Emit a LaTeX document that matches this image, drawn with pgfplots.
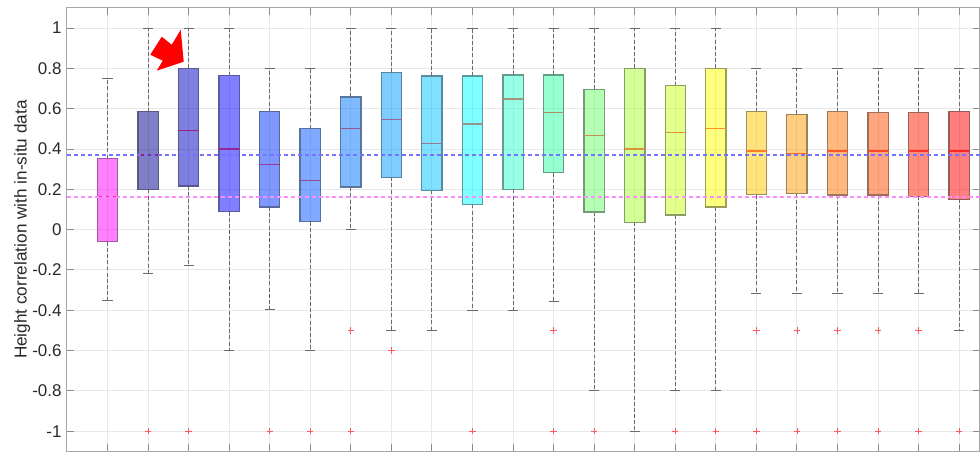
\documentclass[border=0pt]{standalone}
\usepackage{pgfplots}
\pgfplotsset{compat=1.18}
\usepgfplotslibrary{statistics}
\usepackage{fontspec}
\setmainfont{Liberation Sans}

\definecolor{c1}{RGB}{255,0,255}
\definecolor{c2}{RGB}{0,0,145}
\definecolor{c3}{RGB}{0,0,195}
\definecolor{c4}{RGB}{0,0,255}
\definecolor{c5}{RGB}{0,50,255}
\definecolor{c6}{RGB}{0,85,255}
\definecolor{c7}{RGB}{0,115,255}
\definecolor{c8}{RGB}{0,155,255}
\definecolor{c9}{RGB}{0,195,255}
\definecolor{c10}{RGB}{0,255,255}
\definecolor{c11}{RGB}{45,255,205}
\definecolor{c12}{RGB}{45,255,165}
\definecolor{c13}{RGB}{105,255,105}
\definecolor{c14}{RGB}{165,255,45}
\definecolor{c15}{RGB}{200,255,25}
\definecolor{c16}{RGB}{255,255,0}
\definecolor{c17}{RGB}{255,200,0}
\definecolor{c18}{RGB}{255,155,0}
\definecolor{c19}{RGB}{255,115,0}
\definecolor{c20}{RGB}{255,75,0}
\definecolor{c21}{RGB}{255,30,0}
\definecolor{c22}{RGB}{255,0,0}
\definecolor{refb}{RGB}{115,115,255}
\definecolor{refm}{RGB}{255,140,255}
\definecolor{txt}{RGB}{40,40,40}

\pgfplotsset{
  mybox/.style n args={7}{
    boxplot prepared={draw position=#1, lower whisker=#3,
      lower quartile=#4, median=#5, upper quartile=#6, upper whisker=#7},
    fill=#2, fill opacity=0.5, draw=#2!40!black!65, draw opacity=1, line width=0.65pt,
    boxplot/every median/.style={draw=#2!50!red!85!white, line width=0.6pt},
    mark=+, mark size=1.6pt, mark options={solid, draw=red!65, line width=0.4pt, fill opacity=1}
  }
}

\begin{document}
\begin{tikzpicture}
\path (-33.5pt,0.6pt) rectangle (456.5pt,226pt);
\begin{axis}[
  at={(0,0)}, anchor=south west,
  width=457pt, height=222pt, scale only axis,
  xmin=0, xmax=22.5, ymin=-1.1, ymax=1.1,
  xtick={1,...,22}, xticklabels={},
  ytick={-1,-0.8,-0.6,-0.4,-0.2,0,0.2,0.4,0.6,0.8,1},
  yticklabels={-1,-0.8,-0.6,-0.4,-0.2,0,0.2,0.4,0.6,0.8,1},
  tick pos=both, xticklabel pos=left, yticklabel pos=left,
  tick align=inside, major tick length=3.5pt,
  axis line style={draw=black!35, line width=0.5pt},
  major tick style={draw=black!45, line width=0.5pt},
  grid=major, major grid style={draw=black!9, line width=0.5pt},
  tick label style={font=\fontsize{8.5}{10}\selectfont, text=txt},
  yticklabel style={inner xsep=2.5pt},
  ylabel={Height correlation with in-situ data},
  ylabel style={at={(axis description cs:-0.049,0.5)}, anchor=center,
    font=\fontsize{8.6}{10}\selectfont, text=txt},
  boxplot/draw direction=y,
  boxplot/box extend=0.5,
  boxplot/whisker extend=0.25,
  boxplot/every whisker/.style={draw=black!58, line width=0.5pt},
  boxplot/draw/lower whisker/.code={%
    \draw[/pgfplots/boxplot/every whisker/.try, dash pattern=on 2pt off 1.1pt]
      (boxplot cs:\pgfplotsboxplotvalue{lower quartile}) --
      (boxplot cs:\pgfplotsboxplotvalue{lower whisker});
    \draw[/pgfplots/boxplot/every whisker/.try, solid]
      (boxplot whisker cs:\pgfplotsboxplotvalue{lower whisker},0) --
      (boxplot whisker cs:\pgfplotsboxplotvalue{lower whisker},1);
  },
  boxplot/draw/upper whisker/.code={%
    \draw[/pgfplots/boxplot/every whisker/.try, dash pattern=on 2pt off 1.1pt]
      (boxplot cs:\pgfplotsboxplotvalue{upper quartile}) --
      (boxplot cs:\pgfplotsboxplotvalue{upper whisker});
    \draw[/pgfplots/boxplot/every whisker/.try, solid]
      (boxplot whisker cs:\pgfplotsboxplotvalue{upper whisker},0) --
      (boxplot whisker cs:\pgfplotsboxplotvalue{upper whisker},1);
  },
]
\addplot[mybox={1}{c1}{-0.35}{-0.06}{0.163}{0.353}{0.75}] coordinates {};
\addplot[mybox={2}{c2}{-0.217}{0.20}{0.37}{0.585}{1}] table[row sep=\\,y index=0] {v\\ -1\\};
\addplot[mybox={3}{c3}{-0.178}{0.216}{0.494}{0.80}{1}] table[row sep=\\,y index=0] {v\\ -1\\};
\addplot[mybox={4}{c4}{-0.60}{0.09}{0.40}{0.765}{1}] coordinates {};
\addplot[mybox={5}{c5}{-0.396}{0.112}{0.322}{0.585}{0.8}] table[row sep=\\,y index=0] {v\\ -1\\};
\addplot[mybox={6}{c6}{-0.60}{0.04}{0.244}{0.502}{0.8}] table[row sep=\\,y index=0] {v\\ -1\\};
\addplot[mybox={7}{c7}{0.0}{0.211}{0.502}{0.659}{1}] table[row sep=\\,y index=0] {v\\ -0.5\\ -1\\};
\addplot[mybox={8}{c8}{-0.50}{0.26}{0.548}{0.78}{1}] table[row sep=\\,y index=0] {v\\ -0.6\\};
\addplot[mybox={9}{c9}{-0.50}{0.195}{0.428}{0.763}{1}] coordinates {};
\addplot[mybox={10}{c10}{-0.40}{0.125}{0.524}{0.763}{1}] table[row sep=\\,y index=0] {v\\ -1\\};
\addplot[mybox={11}{c11}{-0.40}{0.20}{0.648}{0.767}{1}] coordinates {};
\addplot[mybox={12}{c12}{-0.357}{0.282}{0.582}{0.767}{1}] table[row sep=\\,y index=0] {v\\ -0.5\\ -1\\};
\addplot[mybox={13}{c13}{-0.798}{0.087}{0.466}{0.697}{1}] table[row sep=\\,y index=0] {v\\ -1\\};
\addplot[mybox={14}{c14}{-1.0}{0.037}{0.40}{0.80}{1}] coordinates {};
\addplot[mybox={15}{c15}{-0.80}{0.072}{0.482}{0.714}{1}] table[row sep=\\,y index=0] {v\\ -1\\};
\addplot[mybox={16}{c16}{-0.80}{0.112}{0.502}{0.80}{1}] table[row sep=\\,y index=0] {v\\ -1\\};
\addplot[mybox={17}{c17}{-0.317}{0.173}{0.39}{0.585}{0.8}] table[row sep=\\,y index=0] {v\\ -0.5\\ -1\\};
\addplot[mybox={18}{c18}{-0.317}{0.178}{0.376}{0.572}{0.8}] table[row sep=\\,y index=0] {v\\ -0.5\\ -1\\};
\addplot[mybox={19}{c19}{-0.317}{0.172}{0.39}{0.585}{0.8}] table[row sep=\\,y index=0] {v\\ -0.5\\ -1\\};
\addplot[mybox={20}{c20}{-0.317}{0.172}{0.39}{0.582}{0.8}] table[row sep=\\,y index=0] {v\\ -0.5\\ -1\\};
\addplot[mybox={21}{c21}{-0.317}{0.166}{0.39}{0.582}{0.8}] table[row sep=\\,y index=0] {v\\ -0.5\\ -1\\};
\addplot[mybox={22}{c22}{-0.50}{0.151}{0.39}{0.585}{0.8}] table[row sep=\\,y index=0] {v\\ -1\\};
% reference lines
\addplot[refb, line width=0.7pt, dash pattern=on 2pt off 1.5pt] coordinates {(0,0.37) (22.5,0.37)};
\addplot[refm, line width=0.9pt, dash pattern=on 2pt off 1.5pt] coordinates {(0,0.163) (22.5,0.163)};
\end{axis}
% annotation arrow pointing at box 3
\fill[red] (41.75pt,198.6pt) -- (47.5pt,207.6pt) -- (52.5pt,203.6pt) -- (57pt,211.1pt)
  -- (58.5pt,195.1pt) -- (45pt,190.6pt) -- (48pt,195.6pt) -- cycle;
\end{tikzpicture}
\end{document}
